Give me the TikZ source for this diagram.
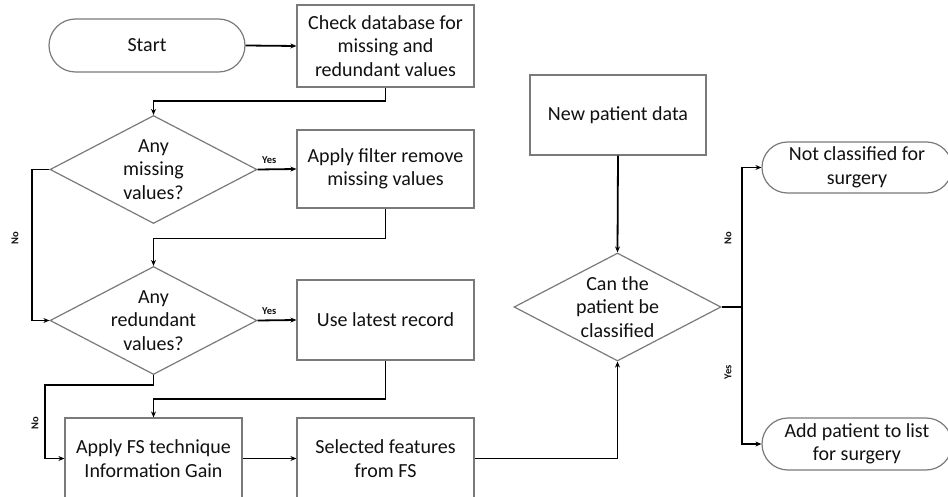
\documentclass[tikz,border=0pt]{standalone}
\usepackage{fontspec}
\setmainfont{Carlito}
\usetikzlibrary{shapes.geometric,shapes.misc,arrows.meta}
\definecolor{boxline}{HTML}{7A7A7A}
\definecolor{txt}{HTML}{111111}
\tikzset{
  mainfont/.style={font=\fontsize{20}{23.5}\selectfont},
  base/.style={draw=boxline, line width=1.2pt, fill=white, text=txt, align=center, inner sep=0pt, mainfont},
  procbox/.style={base, rectangle, minimum width=177pt, minimum height=#1},
  pill/.style={base, rounded rectangle, minimum width=190pt, minimum height=#1},
  decision/.style={base, diamond, minimum width=207pt, minimum height=108pt},
  conn/.style={line width=1.8pt, black},
  arr/.style={conn, -{Stealth[length=6pt,width=5pt]}},
  lab/.style={font=\fontsize{10.5}{11}\selectfont\bfseries, text=txt, inner sep=0pt},
}
\begin{document}
\begin{tikzpicture}[x=1pt,y=-1pt]
\useasboundingbox (0,0) rectangle (948,497);
\clip (0,0) rectangle (948,497);
\fill[white] (0,0) rectangle (948,497);

\node[pill=53pt, minimum width=196pt] (start) at (147,45.5) {Start};
\node[procbox=82pt] (check) at (385.5,46) {Check database for\\missing and\\redundant values};
\node[decision, label={[align=center,mainfont,text=txt]center:Any\\missing\\values?}] (d1) at (153.5,169.5) {};
\node[procbox=78pt] (filter) at (385.5,169) {Apply filter remove\\missing values};
\node[decision, label={[align=center,mainfont,text=txt]center:Any\\redundant\\values?}] (d2) at (153.5,320.5) {};
\node[procbox=80pt] (latest) at (385.5,320) {Use latest record};
\node[procbox=81pt] (fs) at (153.5,458.5) {Apply FS technique\\Information Gain};
\node[procbox=81pt] (sel) at (385.5,458.5) {Selected features\\from FS};
\node[procbox=80pt, minimum width=176pt] (newp) at (618,115) {New patient data};
\node[decision, label={[align=center,mainfont,text=txt]center:Can the\\patient be\\classified}] (d3) at (617.5,307) {};
\node[pill=51pt, minimum width=190pt] (notc) at (857,167.5) {Not classified for\\surgery};
\node[pill=52pt, minimum width=190pt] (addp) at (857,444) {Add patient to list\\for surgery};

\coordinate (c1) at (32,169.5);
\coordinate (c2) at (45,385);
\coordinate (c3) at (742,307);

\draw[arr] (start.east) -- (check.west);
\draw[arr] (check.south) -- ++(0,13.5) -| (d1.north);
\draw[arr] (d1.east) -- node[lab, pos=0.3, above=5pt] (y1) {Yes} (filter.west);
\draw[arr] (filter.south) -- ++(0,30) -| (d2.north);
\draw[arr] (d1.west) -- (c1) |- (d2.west);
\node[lab, rotate=90] (n1) at (15,238) {No};
\draw[arr] (d2.east) -- node[lab, pos=0.3, above=5pt] (y2) {Yes} (latest.west);
\draw[arr] (latest.south) -- ++(0,38) -| (fs.north);
\draw[arr] (d2.south) |- (c2) |- (fs.west);
\node[lab, rotate=90] (n2) at (35,423) {No};
\draw[arr] (fs.east) -- (sel.west);
\draw[arr] (sel.east) -| (d3.south);
\draw[arr] (newp.south) -- (d3.north);
\draw[conn] (d3.east) -- (c3);
\draw[arr] (c3) |- (notc.west);
\draw[arr] (c3) |- (addp.west);
\node[lab, rotate=90] (n3) at (728,238) {No};
\node[lab, rotate=90] (y3) at (728,372) {Yes};
\end{tikzpicture}
\end{document}
